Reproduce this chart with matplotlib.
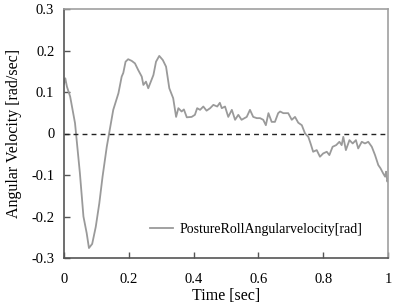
import matplotlib
matplotlib.use('Agg')
import matplotlib.pyplot as plt

# time [sec] and roll angular velocity [rad/sec]
t = [0.000, 0.004, 0.009, 0.019, 0.034, 0.049, 0.060, 0.070, 0.077, 0.087,
     0.098, 0.109, 0.119, 0.132, 0.152, 0.168, 0.178, 0.183, 0.190, 0.198,
     0.209, 0.219, 0.229, 0.240, 0.245, 0.253, 0.260, 0.268, 0.276, 0.284,
     0.294, 0.305, 0.315, 0.325, 0.337, 0.346, 0.353, 0.363, 0.370, 0.379,
     0.394, 0.404, 0.411, 0.420, 0.430, 0.440, 0.451, 0.461, 0.473, 0.481,
     0.487, 0.497, 0.507, 0.518, 0.528, 0.538, 0.548, 0.564, 0.574, 0.584,
     0.595, 0.605, 0.615, 0.623, 0.631, 0.641, 0.651, 0.661, 0.667, 0.677,
     0.692, 0.703, 0.713, 0.723, 0.734, 0.744, 0.754, 0.761, 0.769, 0.780,
     0.790, 0.800, 0.811, 0.819, 0.829, 0.840, 0.850, 0.857, 0.862, 0.870,
     0.881, 0.891, 0.901, 0.908, 0.919, 0.929, 0.939, 0.950, 0.960, 0.970,
     0.977, 0.985, 0.991, 0.994, 0.998, 1.000]
roll = [0.120, 0.133, 0.113, 0.089, 0.025, -0.095, -0.200, -0.240, -0.276, -0.266,
        -0.225, -0.168, -0.104, -0.032, 0.057, 0.097, 0.137, 0.146, 0.173, 0.179,
        0.175, 0.169, 0.153, 0.137, 0.117, 0.125, 0.109, 0.125, 0.141, 0.173,
        0.187, 0.177, 0.161, 0.109, 0.085, 0.040, 0.061, 0.053, 0.058, 0.039,
        0.040, 0.045, 0.061, 0.057, 0.065, 0.055, 0.061, 0.069, 0.065, 0.074,
        0.061, 0.065, 0.040, 0.057, 0.033, 0.045, 0.033, 0.040, 0.057, 0.040,
        0.037, 0.037, 0.033, 0.020, 0.049, 0.028, 0.028, 0.049, 0.053, 0.049,
        0.049, 0.033, 0.040, 0.026, 0.020, 0.000, -0.008, -0.024, -0.044, -0.040,
        -0.056, -0.048, -0.044, -0.052, -0.032, -0.028, -0.020, -0.028, -0.008, -0.040,
        -0.016, -0.024, -0.016, -0.036, -0.020, -0.024, -0.020, -0.032, -0.052, -0.076,
        -0.084, -0.096, -0.104, -0.092, -0.116, -0.110]

xticks = [0, 0.2, 0.4, 0.6, 0.8, 1]
xticklabels = ['0', '0.2', '0.4', '0.6', '0.8', '1']
yticks = [-0.3, -0.2, -0.1, 0, 0.1, 0.2, 0.3]
yticklabels = ['-0.3', '-0.2', '-0.1', '0', '0.1', '0.2', '0.3']

plt.rcParams['font.family'] = ['Liberation Serif', 'DejaVu Serif']
plt.rcParams['font.size'] = 10.5

fig = plt.figure(figsize=(3.96, 3.05), dpi=100)
ax = fig.add_axes([64 / 396, 1 - 258 / 305, 324 / 396, 249 / 305])

ax.plot(t, roll, color='#9a9a9a', lw=1.3, label='PostureRollAngularvelocity[rad]')
ax.axhline(0, color='#222222', lw=1.0, ls=(0, (3.5, 3)))

ax.set_xlim(0, 1)
ax.set_ylim(-0.3, 0.3)
ax.set_xticks(xticks)
ax.set_xticklabels(xticklabels)
ax.set_yticks(yticks)
ax.set_yticklabels(yticklabels)
ax.tick_params(direction='in', length=4, width=1, color='#555555')
ax.tick_params(axis='x', pad=11)
ax.tick_params(axis='y', pad=7)

for s in ['left', 'bottom']:
    ax.spines[s].set_color('#555555')
    ax.spines[s].set_linewidth(1.2)
for s in ['top', 'right']:
    ax.spines[s].set_color('#a0a0a0')
    ax.spines[s].set_linewidth(1.2)

ax.set_xlabel('Time [sec]', fontsize=11.5, labelpad=1)
ax.set_ylabel('Angular Velocity [rad/sec]', fontsize=11.5, labelpad=6.5)

ax.legend(loc='center right', frameon=False, handlelength=1.65, handletextpad=0.5,
          borderaxespad=0, fontsize=10, bbox_to_anchor=(0.938, 0.116))

fig.savefig('out.png', dpi=100)
